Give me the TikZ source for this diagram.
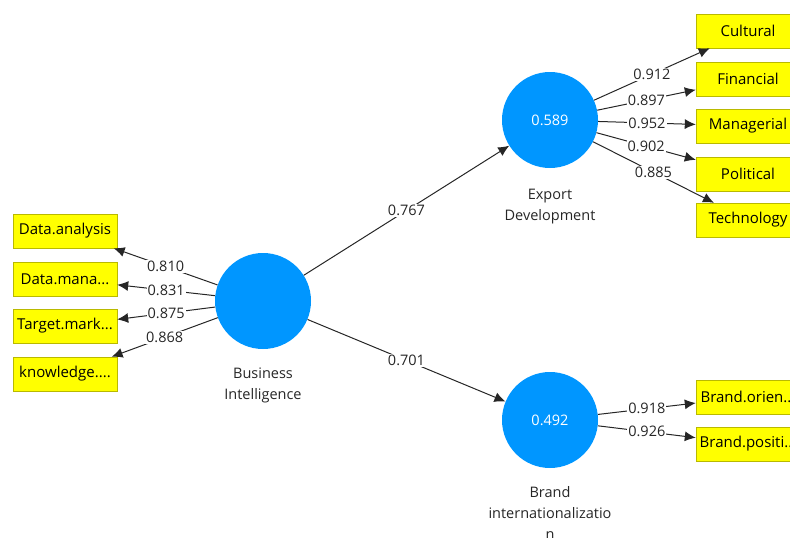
\documentclass[tikz,border=0pt]{standalone}
\usepackage{fontspec}
\setmainfont{Open Sans}
\usetikzlibrary{arrows.meta}
\definecolor{lvblue}{RGB}{0,150,255}
\definecolor{indyellow}{RGB}{255,255,0}
\definecolor{indborder}{RGB}{185,185,0}
\begin{document}
\begin{tikzpicture}[x=1pt,y=-1pt,
        latent/.style={circle,fill=lvblue,minimum size=96pt,inner sep=0,text=white,font=\fontsize{14.5}{16}\selectfont},
        lvname/.style={align=center,font=\fontsize{14.5}{21}\selectfont,text=black!85},
        indicator/.style={draw=indborder,fill=indyellow,minimum width=104pt,minimum height=34pt,inner sep=1pt,font=\fontsize{15}{16}\selectfont},
        loadarrow/.style={draw=black!85,line width=1pt,-{Latex[length=11pt,width=10pt]}},
        weight/.style={fill=white,inner sep=1pt,text=black!85,font=\fontsize{14.5}{16}\selectfont}]
        \clip (0,0) rectangle (790,538);
        % latent variables
        \node[latent] (bi) at (263,301) {};
        \node[latent] (ed) at (550,120) {0.589};
        \node[latent] (brand) at (550,420) {0.492};
        \node[lvname] (bilabel) at (263,385) {Business\\Intelligence};
        \node[lvname] (edlabel) at (550,207) {Export\\Development};
        \node[lvname] (brandlabel) at (550,513) {Brand\\internationalizatio\\n};
        % indicators
        \node[indicator] (dan) at (65,231) {Data.analysis};
        \node[indicator] (dma) at (65,279) {Data.mana...};
        \node[indicator] (tma) at (65,326) {Target.mark...};
        \node[indicator] (kno) at (65,374) {knowledge....};
        \node[indicator] (cul) at (748,31) {Cultural};
        \node[indicator] (fin) at (748,79) {Financial};
        \node[indicator] (man) at (748,126) {Managerial};
        \node[indicator] (pol) at (748,174) {Political};
        \node[indicator] (tec) at (748,220) {Technology};
        \node[indicator] (bor) at (748,397) {Brand.orien...};
        \node[indicator] (bpo) at (748,444) {Brand.positi...};
        % paths
        \draw[loadarrow] (bi) -- (ed) node[midway,weight] (w1) {0.767};
        \draw[loadarrow] (bi) -- (brand) node[midway,weight] (w2) {0.701};
        \draw[loadarrow] (bi) -- (dan) node[midway,weight] (l1) {0.810};
        \draw[loadarrow] (bi) -- (dma) node[midway,weight] (l2) {0.831};
        \draw[loadarrow] (bi) -- (tma) node[midway,weight] (l3) {0.875};
        \draw[loadarrow] (bi) -- (kno) node[midway,weight] (l4) {0.868};
        \draw[loadarrow] (ed) -- (cul) node[midway,weight] (l5) {0.912};
        \draw[loadarrow] (ed) -- (fin) node[midway,weight] (l6) {0.897};
        \draw[loadarrow] (ed) -- (man) node[midway,weight] (l7) {0.952};
        \draw[loadarrow] (ed) -- (pol) node[midway,weight] (l8) {0.902};
        \draw[loadarrow] (ed) -- (tec) node[midway,weight] (l9) {0.885};
        \draw[loadarrow] (brand) -- (bor) node[midway,weight] (l10) {0.918};
        \draw[loadarrow] (brand) -- (bpo) node[midway,weight] (l11) {0.926};
\end{tikzpicture}
\end{document}
